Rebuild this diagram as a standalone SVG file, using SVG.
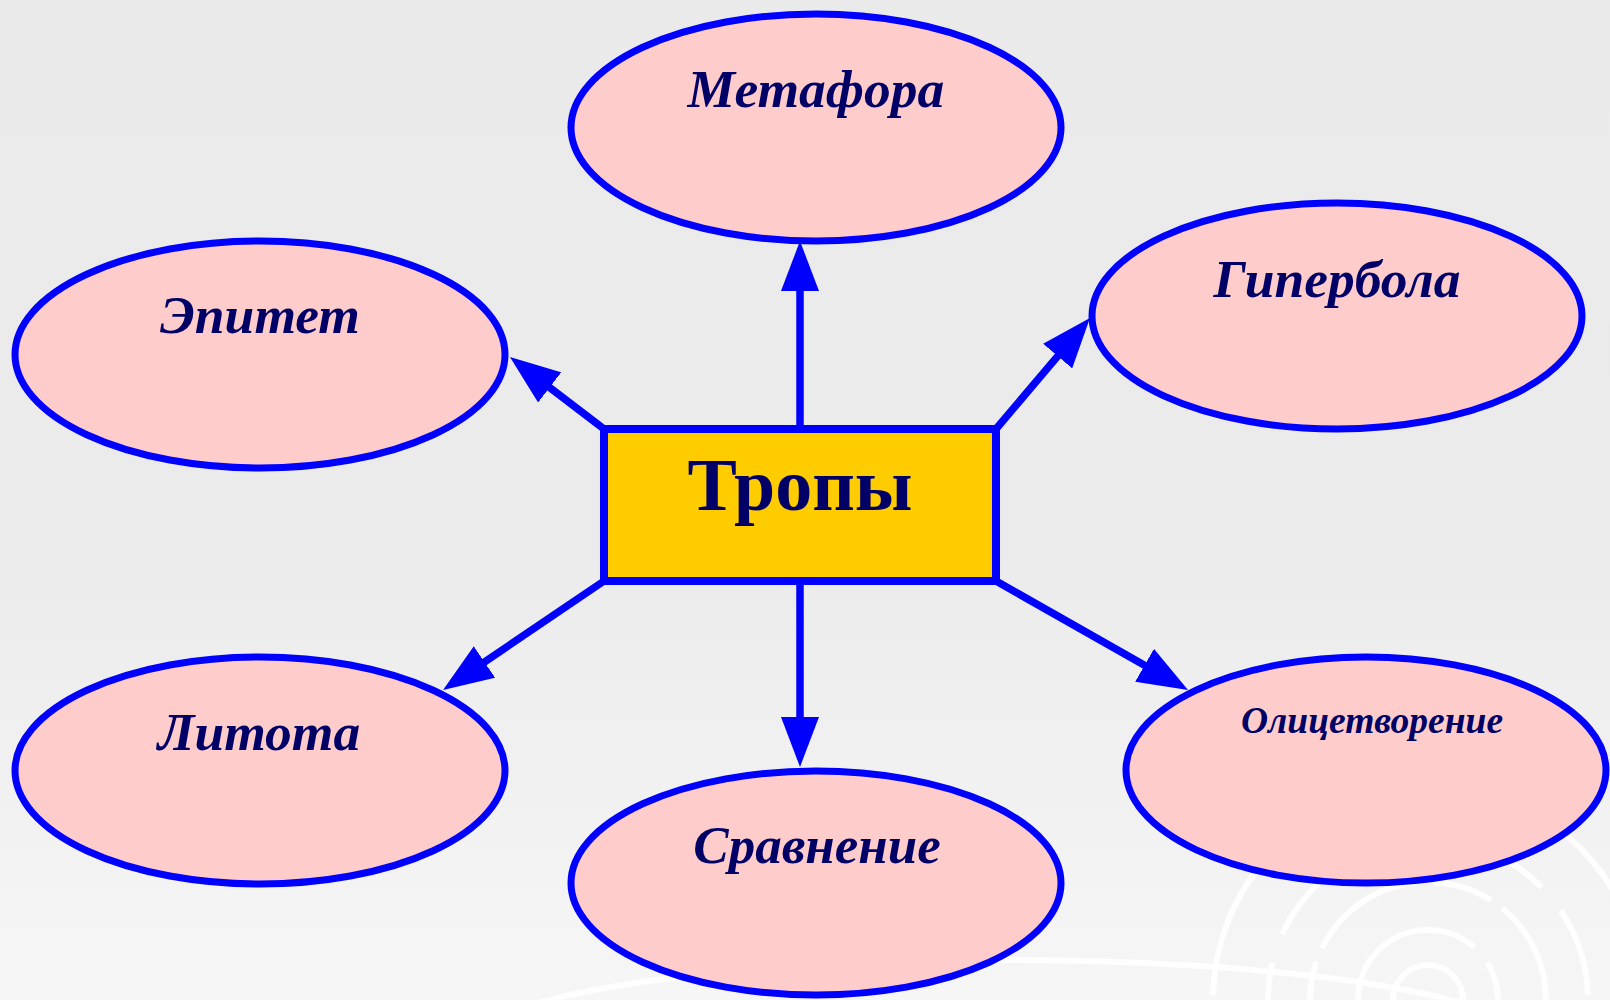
<svg xmlns="http://www.w3.org/2000/svg" width="1610" height="1000" viewBox="0 0 1610 1000">
  <defs>
    <linearGradient id="bg" x1="0" y1="0" x2="0" y2="1">
      <stop offset="0" stop-color="#EAEAEA"/>
      <stop offset="0.55" stop-color="#EBEBEB"/>
      <stop offset="1" stop-color="#F6F6F6"/>
    </linearGradient>
    <marker id="arrow" markerUnits="userSpaceOnUse" markerWidth="50" markerHeight="38" viewBox="0 0 50 38" refX="5" refY="19" orient="auto">
      <path d="M0,0 L50,19 L0,38 z" fill="#0000FF"/>
    </marker>
    <style>
      .node { fill: #FFCCCC; stroke: #0000FF; stroke-width: 7; }
      .center { fill: #FFCC00; stroke: #0000FF; stroke-width: 8; }
      .lbl { font-family: "Liberation Serif", "Times New Roman", serif; font-weight: bold; font-style: italic; fill: #000066; text-anchor: middle; }
      .title { font-family: "Liberation Serif", "Times New Roman", serif; font-weight: bold; fill: #000066; text-anchor: middle; font-size: 74px; }
      .conn { stroke: #0000FF; stroke-width: 7.5; fill: none; marker-end: url(#arrow); }
      .swirl { fill: none; stroke: #FFFFFF; stroke-width: 6; opacity: 0.85; }
    </style>
  </defs>

  <rect x="0" y="0" width="1610" height="1000" fill="url(#bg)"/>

  <g id="decoration">
    <circle class="swirl" cx="1428" cy="1000" r="35"/>
    <circle class="swirl" cx="1428" cy="1000" r="70" stroke-dasharray="180 20"/>
    <circle class="swirl" cx="1428" cy="1000" r="118" stroke-dasharray="120 18 60 14"/>
    <circle class="swirl" cx="1428" cy="1000" r="160" stroke-dasharray="200 30 90 20"/>
    <circle class="swirl" cx="1428" cy="1000" r="215" stroke-dasharray="300 40"/>
    <ellipse class="swirl" cx="1000" cy="1040" rx="520" ry="80" stroke-width="4" opacity="0.7"/>
  </g>

  <g id="connectors">
    <line class="conn" x1="800" y1="425" x2="800" y2="286"/>
    <line class="conn" x1="800" y1="585" x2="800" y2="722"/>
    <line class="conn" x1="604" y1="429" x2="545.7" y2="384.4"/>
    <line class="conn" x1="996" y1="429" x2="1060.9" y2="352.3"/>
    <line class="conn" x1="604" y1="581" x2="480.3" y2="664.8"/>
    <line class="conn" x1="996" y1="581" x2="1148.9" y2="667.8"/>
  </g>

  <g id="node-tropy">
    <rect class="center" x="604" y="429" width="392" height="152"/>
    <text class="title" x="800" y="510">Тропы</text>
  </g>

  <g id="node-metafora">
    <ellipse class="node" cx="816" cy="127.5" rx="245" ry="113.5"/>
    <text class="lbl" x="816" y="107" font-size="53.5">Метафора</text>
  </g>

  <g id="node-epitet">
    <ellipse class="node" cx="260" cy="354.5" rx="245" ry="113.5"/>
    <text class="lbl" x="260" y="333" font-size="53.5">Эпитет</text>
  </g>

  <g id="node-giperbola">
    <ellipse class="node" cx="1337" cy="316" rx="245" ry="113"/>
    <text class="lbl" x="1337" y="297" font-size="53.5">Гипербола</text>
  </g>

  <g id="node-litota">
    <ellipse class="node" cx="260" cy="770.5" rx="245" ry="113.5"/>
    <text class="lbl" x="259" y="750" font-size="53.5">Литота</text>
  </g>

  <g id="node-sravnenie">
    <ellipse class="node" cx="816" cy="883" rx="245" ry="112"/>
    <text class="lbl" x="817" y="863" font-size="53">Сравнение</text>
  </g>

  <g id="node-olicetvorenie">
    <ellipse class="node" cx="1366" cy="770" rx="240" ry="113"/>
    <text class="lbl" x="1372" y="733" font-size="37.5">Олицетворение</text>
  </g>
</svg>
